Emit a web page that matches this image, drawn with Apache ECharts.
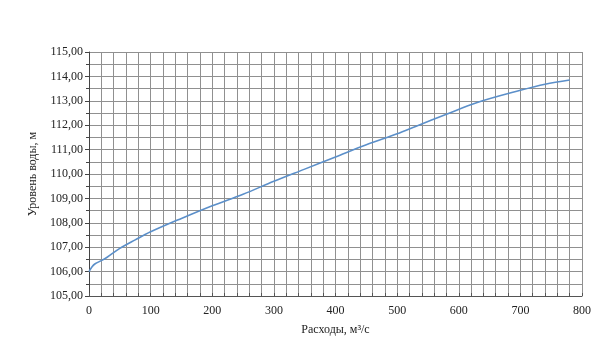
<!DOCTYPE html>
<html><head><meta charset="utf-8">
<script src="https://cdn.jsdelivr.net/npm/echarts@6/dist/echarts.min.js"></script>
<style>html,body{margin:0;padding:0;background:#fff}#c{width:602px;height:358px}</style>
</head><body><div id="c"></div>
<script>
const flows = [0, 5, 10, 20, 30, 50, 75, 100, 150, 200, 250, 300, 350, 400, 450, 500, 530, 580, 630, 700, 740, 780];
const levels = [106.0, 106.2, 106.32, 106.45, 106.6, 106.95, 107.3, 107.63, 108.18, 108.7, 109.17, 109.7, 110.2, 110.7, 111.2, 111.65, 111.95, 112.45, 112.93, 113.43, 113.68, 113.85];
const xTitle = 'Расходы, м³/с';
const yTitle = 'Уровень воды, м';

const chart = echarts.init(document.getElementById('c'));
const font = 'Liberation Serif, Times New Roman, serif';
chart.setOption({
  animation: false,
  grid: {left: 89, right: 20, top: 52, bottom: 62},
  xAxis: {
    type: 'value', min: 0, max: 800, interval: 100,
    name: xTitle, nameLocation: 'middle', nameGap: 28,
    nameTextStyle: {fontFamily: font, fontSize: 12, color: '#222'},
    axisLine: {show: true, lineStyle: {color: '#555', width: 1}},
    axisTick: {show: true, length: 3, inside: true, lineStyle: {color: '#555'}},
    minorTick: {show: true, splitNumber: 5, length: 3, lineStyle: {color: '#555'}},
    axisLabel: {fontFamily: font, fontSize: 12, color: '#222', margin: 9},
    splitLine: {show: true, lineStyle: {color: '#909090', width: 1}},
    minorSplitLine: {show: true, lineStyle: {color: '#909090', width: 1}}
  },
  yAxis: {
    type: 'value', min: 105, max: 115, interval: 1,
    name: yTitle, nameLocation: 'middle', nameGap: 50, nameRotate: 90,
    nameTextStyle: {fontFamily: font, fontSize: 12, color: '#222'},
    axisLine: {show: true, lineStyle: {color: '#444', width: 1}},
    axisTick: {show: true, length: 4, lineStyle: {color: '#444'}},
    minorTick: {show: true, splitNumber: 2, length: 3, lineStyle: {color: '#444'}},
    axisLabel: {fontFamily: font, fontSize: 12, color: '#222', margin: 6,
      formatter: v => v.toFixed(2).replace('.', ',')},
    splitLine: {show: true, lineStyle: {color: '#909090', width: 1}},
    minorSplitLine: {show: true, lineStyle: {color: '#909090', width: 1}}
  },
  series: [{
    type: 'line', smooth: 0.35, symbol: 'none',
    data: flows.map((f, i) => [f, levels[i]]),
    lineStyle: {color: '#5b8fc9', width: 1.6}
  }]
});
</script></body></html>
